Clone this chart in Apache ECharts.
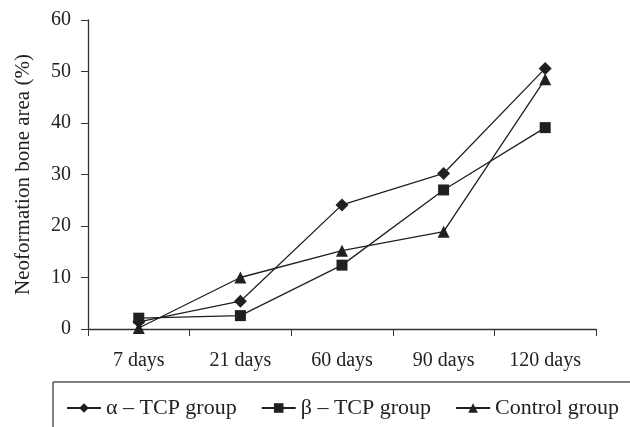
<!DOCTYPE html>
<html><head><meta charset="utf-8">
<script src="https://cdn.jsdelivr.net/npm/echarts@6/dist/echarts.min.js"></script>
<style>html,body{margin:0;padding:0;background:#fff}#c{width:630px;height:427px}</style>
</head><body><div id="c"></div>
<script>
var categories = ['7 days', '21 days', '60 days', '90 days', '120 days'];
var alphaTCP = [1.4, 5.4, 24.1, 30.2, 50.6];
var betaTCP = [2.1, 2.6, 12.4, 27.0, 39.1];
var controlGroup = [0.2, 10.0, 15.2, 18.9, 48.5];
var yTicks = [0, 10, 20, 30, 40, 50, 60];

var font = 'Liberation Serif';
var ink = '#231f20';
var chart = echarts.init(document.getElementById('c'), null, {renderer: 'canvas'});
function ser(name, data, symbol, size) {
  return {name: name, type: 'line', data: data, symbol: symbol, symbolSize: size,
    itemStyle: {color: ink}, lineStyle: {color: ink, width: 1.3}, animation: false};
}
chart.setOption({
  animation: false,
  backgroundColor: '#fff',
  textStyle: {fontFamily: font},
  grid: {left: 88, right: 34, top: 20, bottom: 98},
  xAxis: {
    type: 'category', data: categories, boundaryGap: true,
    axisLine: {lineStyle: {color: '#333', width: 1.3}},
    axisTick: {show: true, length: 7, inside: false, lineStyle: {color: '#333'}},
    axisLabel: {color: '#222', fontFamily: font, fontSize: 20, margin: 22}
  },
  yAxis: {
    type: 'value', min: yTicks[0], max: yTicks[yTicks.length - 1], interval: 10,
    name: 'Neoformation bone area (%)', nameLocation: 'middle', nameGap: 54,
    nameTextStyle: {color: '#222', fontFamily: font, fontSize: 21},
    axisLine: {show: true, lineStyle: {color: '#333', width: 1.3}},
    axisTick: {show: true, length: 7, lineStyle: {color: '#333'}},
    splitLine: {show: false},
    axisLabel: {color: '#222', fontFamily: font, fontSize: 20, margin: 17}
  },
  legend: {
    bottom: 8, left: 66, width: 564, padding: 0, itemGap: 24, itemWidth: 34, itemHeight: 12,
    textStyle: {color: '#222', fontFamily: font, fontSize: 22},
    data: [
      {name: 'α – TCP group'},
      {name: 'β – TCP group'},
      {name: 'Control group'}
    ]
  },
  graphic: [
    {type: 'line', shape: {x1: 53, y1: 382, x2: 630, y2: 382}, style: {stroke: '#555', lineWidth: 1.5}},
    {type: 'line', shape: {x1: 53, y1: 382, x2: 53, y2: 427}, style: {stroke: '#555', lineWidth: 1.5}}
  ],
  series: [
    ser('α – TCP group', alphaTCP, 'diamond', 13),
    ser('β – TCP group', betaTCP, 'rect', 11),
    ser('Control group', controlGroup, 'triangle', 12)
  ]
});
</script></body></html>
